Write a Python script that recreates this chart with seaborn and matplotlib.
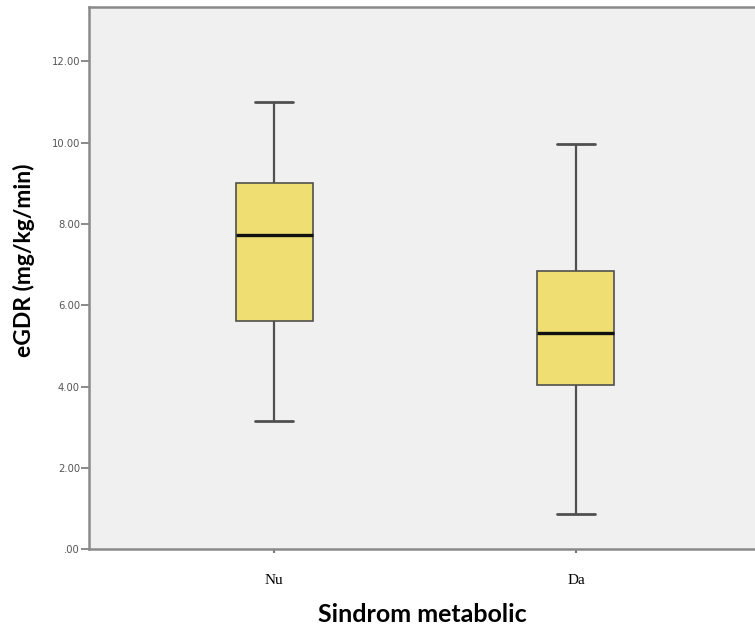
import matplotlib
matplotlib.use("Agg")
import matplotlib.pyplot as plt
import seaborn as sns
import pandas as pd

# Five-number summaries (min, Q1, median, Q3, max)
categories = ["Nu", "Da"]
nu_values = [3.15, 5.62, 7.72, 9.00, 11.01]
da_values = [0.86, 4.04, 5.31, 6.85, 9.96]
yticks = [0, 2, 4, 6, 8, 10, 12]
ytick_labels = [".00", "2.00", "4.00", "6.00", "8.00", "10.00", "12.00"]

df = pd.DataFrame({
    "grp": [categories[0]] * len(nu_values) + [categories[1]] * len(da_values),
    "val": nu_values + da_values,
})

sns.set_style("white")
plt.rcParams["text.color"] = "black"
fig = plt.figure(figsize=(7.55, 6.28), dpi=100)
ax = fig.add_axes([89 / 755, 1 - 549.3 / 628, 1 - 89 / 755, (549.3 - 6.5) / 628])
ax.set_facecolor("#F0F0F0")

edge = "#505050"
sns.boxplot(
    data=df, x="grp", y="val", order=categories, ax=ax,
    color="#EFDF72", width=0.255, whis=(0, 100), fliersize=0,
    boxprops=dict(facecolor="#EFDF72", edgecolor=edge, linewidth=1.2),
    whiskerprops=dict(color=edge, linewidth=1.6),
    capprops=dict(color=edge, linewidth=2.0),
    medianprops=dict(color="#111111", linewidth=2.4),
    capwidths=0.126, saturation=1,
)

ax.set_xlim(-0.613, 1.593)
ax.set_ylim(0, 13.35)
ax.set_yticks(yticks)
ax.set_yticklabels(ytick_labels, fontsize=7.2, color="#555555", family="DejaVu Sans")
ax.set_xticks([0, 1])
ax.set_xticklabels(categories, fontsize=11, family="Liberation Serif", color="black")
ax.tick_params(axis="y", direction="out", length=6, width=1.2, color="#777777", pad=0.5, left=True)
ax.tick_params(axis="x", direction="out", length=3, width=1.5, color="#777777", pad=15, bottom=True)

for side in ["left", "bottom", "top"]:
    ax.spines[side].set_visible(True)
    ax.spines[side].set_color("#8a8a8a")
    ax.spines[side].set_linewidth(1.8)
ax.spines["right"].set_visible(False)

ax.set_xlabel("Sindrom metabolic", fontsize=18, fontweight="bold", family="Lato", color="black")
ax.set_ylabel("eGDR (mg/kg/min)", fontsize=16.5, fontweight="bold", family="Lato", color="black")
ax.yaxis.set_label_coords(-0.098, 0.533)
ax.xaxis.set_label_coords(0.5, -0.12)
ax.xaxis.label.set_va("center")
ax.yaxis.label.set_va("center")

fig.savefig("out.png", dpi=100)
